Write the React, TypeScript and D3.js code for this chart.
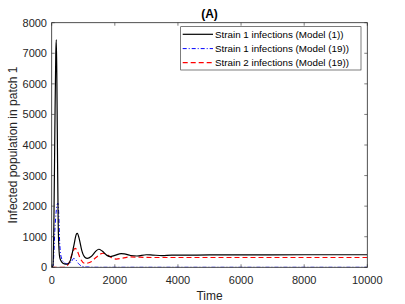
import React from "react";
import * as d3 from "d3";

const xTicks = [0, 2000, 4000, 6000, 8000, 10000];
const yTicks = [0, 1000, 2000, 3000, 4000, 5000, 6000, 7000, 8000];

const strain1Model1T = [0, 40, 70, 100, 130, 146, 165, 185, 205, 230, 260, 320, 400, 480, 540, 600, 700, 780, 810, 880, 950, 1050, 1130, 1250, 1400, 1490, 1600, 1750, 1850, 2000, 2200, 2300, 2500, 2700, 3000, 3200, 3500, 3800, 4200, 5000, 6000, 8000, 10000];
const strain1Model1V = [0, 50, 1500, 4500, 7000, 7450, 6000, 3500, 1500, 600, 300, 170, 110, 100, 130, 250, 700, 1080, 1110, 900, 560, 330, 293, 350, 530, 590, 530, 390, 350, 390, 450, 440, 385, 370, 410, 400, 385, 400, 395, 405, 405, 410, 410];

const strain1Model19T = [0, 40, 70, 100, 140, 195, 225, 245, 270, 310, 380, 460, 540, 620, 700, 760, 850, 950, 1100, 1500, 10000];
const strain1Model19V = [0, 50, 500, 1200, 1800, 2100, 1700, 1000, 550, 300, 170, 120, 110, 180, 290, 250, 120, 40, 10, 0, 0];

const strain2Model19T = [0, 350, 450, 550, 650, 740, 800, 900, 1050, 1150, 1250, 1400, 1625, 1750, 1900, 2050, 2250, 2500, 2800, 3200, 4000, 10000];
const strain2Model19V = [0, 0, 20, 150, 450, 620, 560, 300, 130, 140, 180, 320, 460, 420, 310, 270, 300, 340, 330, 320, 320, 320];

const series = [
  { label: "Strain 1 infections (Model (1))", t: strain1Model1T, v: strain1Model1V, color: "#000000", dash: "", width: 1.2 },
  { label: "Strain 1 infections (Model (19))", t: strain1Model19T, v: strain1Model19V, color: "#0000ff", dash: "4,2,1,2", width: 1 },
  { label: "Strain 2 infections (Model (19))", t: strain2Model19T, v: strain2Model19V, color: "#ff0000", dash: "5,3", width: 1.2 },
];

export default function App() {
  const W = 405, H = 304;
  const L = 51.7, R = 367.3, T = 22.7, B = 267.3;
  const x = d3.scaleLinear().domain([0, 10000]).range([L, R]);
  const y = d3.scaleLinear().domain([0, 8000]).range([B, T]);
  const line = d3.line<[number, number]>().x(d => x(d[0])).y(d => y(d[1])).curve(d3.curveMonotoneX);
  const axisColor = "#262626";
  const font = "'Liberation Sans', Arial, Helvetica, sans-serif";
  const legX = 180.7, legY = 26.7, legW = 180.3, legH = 43.3;
  const rowY = [34.3, 48.6, 62.7];
  return (
    <svg width={W} height={H} style={{ position: "absolute", left: 0, top: 0 }} fontFamily={font}>
      <rect x={0} y={0} width={W} height={H} fill="#fff" />
      <defs>
        <clipPath id="plotclip"><rect x={L} y={T} width={R - L} height={B - T} /></clipPath>
      </defs>
      <g clipPath="url(#plotclip)">
        {[1, 2, 0].map(i => {
          const s = series[i];
          return (
            <path key={i} d={line(s.t.map((t, j) => [t, s.v[j]] as [number, number])) || ""} fill="none" stroke={s.color} strokeWidth={s.width} strokeDasharray={s.dash} />
          );
        })}
      </g>
      <rect x={L} y={T} width={R - L} height={B - T} fill="none" stroke={axisColor} strokeWidth={0.8} />
      {xTicks.map(t => (
        <g key={"x" + t}>
          <line x1={x(t)} x2={x(t)} y1={B} y2={B - 3} stroke={axisColor} strokeWidth={0.6} />
          <line x1={x(t)} x2={x(t)} y1={T} y2={T + 3} stroke={axisColor} strokeWidth={0.6} />
          <text x={x(t)} y={284} textAnchor="middle" fontSize={11} fill={axisColor}>{t}</text>
        </g>
      ))}
      {yTicks.map(t => (
        <g key={"y" + t}>
          <line x1={L} x2={L + 3} y1={y(t)} y2={y(t)} stroke={axisColor} strokeWidth={0.6} />
          <line x1={R} x2={R - 3} y1={y(t)} y2={y(t)} stroke={axisColor} strokeWidth={0.6} />
          <text x={47} y={y(t) + 4} textAnchor="end" fontSize={11} fill={axisColor}>{t}</text>
        </g>
      ))}
      <text x={(L + R) / 2} y={300} textAnchor="middle" fontSize={12} fill={axisColor}>Time</text>
      <text transform={`translate(16.5,${(T + B) / 2}) rotate(-90)`} textAnchor="middle" fontSize={12} fill={axisColor}>Infected population in patch 1</text>
      <text x={(L + R) / 2} y={18} textAnchor="middle" fontSize={12} fontWeight="bold" fill="#000">(A)</text>
      <rect x={legX} y={legY} width={legW} height={legH} fill="#fff" stroke={axisColor} strokeWidth={0.6} />
      {series.map((s, i) => (
        <g key={"l" + i}>
          <line x1={182.7} x2={213} y1={rowY[i]} y2={rowY[i]} stroke={s.color} strokeWidth={s.width} strokeDasharray={s.dash} />
          <text x={215} y={rowY[i] + 3.5} fontSize={9.8} fill="#000">{s.label}</text>
        </g>
      ))}
    </svg>
  );
}
